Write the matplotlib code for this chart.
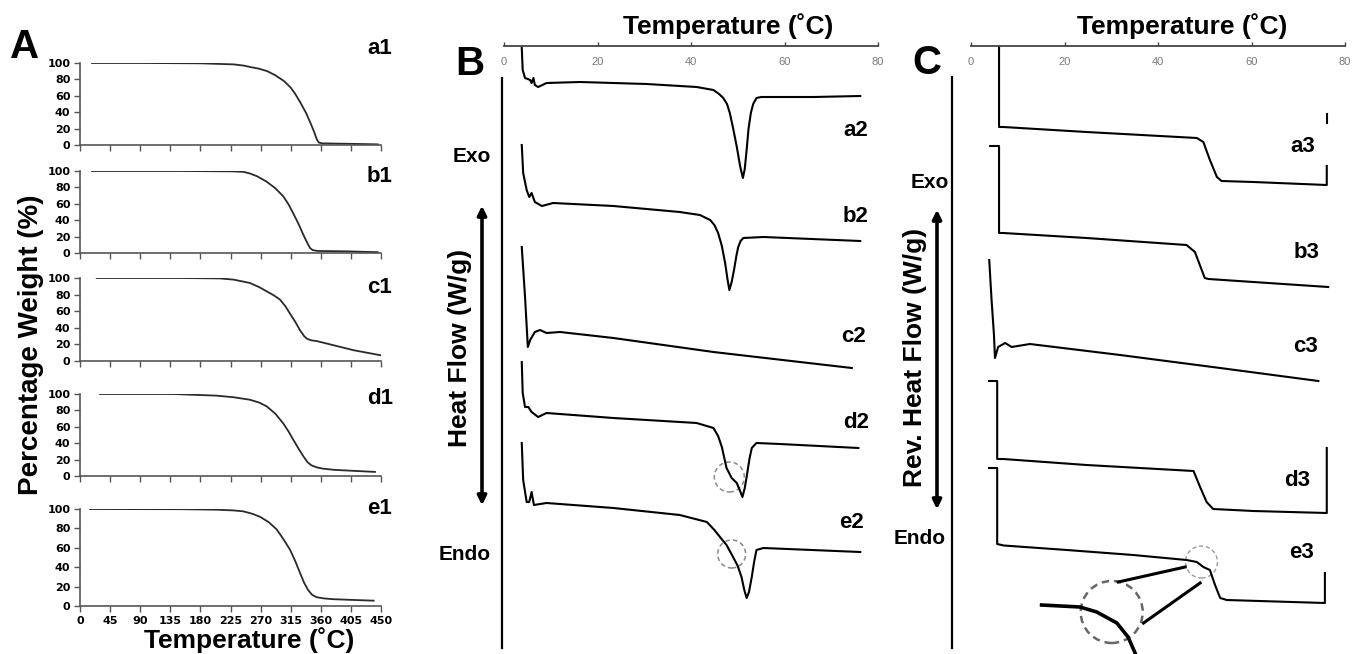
import numpy as np
import matplotlib
matplotlib.use('Agg')
import matplotlib.pyplot as plt
from matplotlib.patches import Ellipse, FancyArrowPatch

plt.rcParams['font.family'] = ['Liberation Sans', 'DejaVu Sans']

# ---- panel A: TGA, temperature (C) vs percentage weight (%)
a1_t = [18, 100, 180, 230, 245, 255, 268, 280, 292, 305, 315, 322, 330, 338, 345, 350, 354, 357, 362, 400, 445]
a1_w = [100, 100, 99.6, 98.3, 96.8, 95, 93, 90, 85, 78, 70, 62, 51, 39, 26, 16, 7, 3, 2, 1.5, 0.8]
b1_t = [18, 150, 225, 244, 254, 265, 279, 292, 304, 312, 319, 327, 334, 340, 344, 348, 355, 400, 445]
b1_w = [100, 100, 99.6, 99, 97, 93.5, 87, 79, 69, 59, 48, 35, 22, 12, 6, 3.5, 2.5, 2, 1]
c1_t = [25, 150, 209, 230, 254, 268, 279, 290, 299, 307, 314, 322, 329, 335, 339, 345, 354, 379, 409, 449]
c1_w = [100, 100, 99.5, 98, 94, 89, 84, 79, 74, 66, 57, 47, 37, 30, 27, 25, 24, 19, 13, 7]
d1_t = [30, 139, 204, 230, 254, 268, 279, 292, 304, 312, 319, 327, 334, 340, 346, 354, 363, 380, 404, 441]
d1_w = [100, 100, 98, 96, 93, 89.5, 85, 76, 64, 54, 44, 33, 24, 17, 13, 10.5, 9, 7.5, 6.5, 5]
e1_t = [15, 150, 204, 230, 244, 258, 269, 282, 294, 304, 314, 322, 329, 335, 341, 347, 354, 365, 379, 410, 439]
e1_w = [100, 99.8, 99.3, 98.5, 97.6, 95, 92, 86.5, 79, 69, 58, 46, 34, 24, 16.5, 11.5, 9, 7.8, 7, 6.2, 5.5]

tga_names = ['a1', 'b1', 'c1', 'd1', 'e1']
tga_t = [a1_t, b1_t, c1_t, d1_t, e1_t]
tga_w = [a1_w, b1_w, c1_w, d1_w, e1_w]
tga_xticks = list(range(0, 451, 45))
tga_yticks = [0, 20, 40, 60, 80, 100]

# ---- panel B: DSC heat flow (stacked, arbitrary units)
a2_t = [3.8, 4.0, 4.5, 5.6, 5.9, 6.3, 6.6, 7.3, 9.1, 16.3, 30.5, 41.2, 44.8, 46.0, 46.9,
        47.7, 48.3, 49.0, 49.8, 50.5, 51.1, 51.5, 51.9, 52.3, 52.8, 53.3, 54.0, 55.0, 59.0, 66.2, 76.2]
a2_hf = [60.6, 58.4, 57.6, 57.4, 57.1, 57.6, 56.9, 56.7, 57.1, 57.2, 57.0, 56.7, 56.4, 56.0, 55.6,
         55.0, 54.1, 52.6, 50.7, 48.8, 47.6, 48.5, 50.4, 52.5, 54.1, 55.0, 55.6, 55.7, 55.7, 55.7, 55.8]
b2_t = [3.8, 4.1, 4.85, 5.4, 5.9, 6.6, 8.1, 10.5, 23.4, 37.6, 41.9, 44.1, 45.0, 45.8, 46.6,
        47.3, 47.8, 48.2, 48.7, 49.2, 49.7, 50.1, 50.6, 51.2, 55.5, 76.2]
b2_hf = [50.9, 48.1, 46.4, 45.7, 46.1, 45.2, 44.8, 45.1, 44.8, 44.2, 43.9, 43.4, 42.9, 42.1, 40.8,
         39.1, 37.5, 36.4, 37.2, 38.4, 39.8, 40.7, 41.3, 41.6, 41.7, 41.3]
c2_t = [3.8, 4.5, 5.1, 5.6, 6.6, 7.7, 9.1, 12.0, 23.4, 44.8, 74.4]
c2_hf = [40.7, 35.7, 30.7, 31.4, 32.2, 32.4, 32.1, 32.2, 31.6, 30.2, 28.6]
d2_t = [3.8, 4.0, 4.5, 5.2, 5.9, 7.3, 9.1, 23.4, 41.2, 44.8, 45.8, 46.6, 47.6, 48.7, 49.8,
        50.5, 51.0, 51.5, 51.9, 52.5, 53.0, 54.0, 59.0, 75.8]
d2_hf = [29.2, 26.1, 24.7, 24.7, 24.2, 23.7, 24.1, 23.6, 23.1, 22.6, 21.8, 20.7, 18.6, 17.6, 17.1,
         16.3, 15.7, 16.6, 17.7, 19.5, 20.6, 21.1, 21.0, 20.6]
e2_t = [3.8, 4.1, 4.85, 5.4, 5.9, 6.4, 9.1, 23.4, 37.6, 43.4, 45.0, 46.2, 47.6, 49.0, 50.0,
        50.8, 51.4, 51.9, 52.4, 53.0, 53.5, 54.0, 55.5, 76.2]
e2_hf = [21.1, 17.4, 15.2, 15.2, 16.2, 14.9, 15.1, 14.6, 13.9, 13.2, 12.4, 11.7, 10.9, 9.7, 8.8,
         7.7, 6.4, 5.6, 6.2, 7.7, 9.2, 10.4, 10.6, 10.2]

dsc_names = ['a2', 'b2', 'c2', 'd2', 'e2']
dsc_t = [a2_t, b2_t, c2_t, d2_t, e2_t]
dsc_hf = [a2_hf, b2_hf, c2_hf, d2_hf, e2_hf]
# dashed circles on d2 / e2 shoulders: (T, hf, radius px)
dsc_marks = [(48.2, 17.7, 15), (48.7, 10.0, 14)]

# ---- panel C: reversing heat flow (stacked, arbitrary units)
a3_t = [6.0, 6.0, 6.9, 24.7, 48.3, 49.7, 51.1, 52.6, 53.6, 60.4, 76.1, 76.1]
a3_hf = [60.7, 52.7, 52.7, 52.2, 51.6, 51.2, 49.4, 47.7, 47.3, 47.2, 46.9, 48.8]
b3_t = [4.1, 6.0, 6.0, 6.9, 24.7, 46.1, 47.9, 50.0, 50.8, 76.4]
b3_hf = [50.8, 50.8, 42.1, 42.1, 41.6, 40.9, 40.2, 37.6, 37.5, 36.7]
c3_t = [3.9, 4.4, 4.9, 5.13, 5.8, 7.3, 8.7, 12.6, 31.9, 53.3, 74.3]
c3_hf = [39.4, 35.4, 32.0, 29.6, 30.7, 31.1, 30.7, 31.0, 29.9, 28.6, 27.3]
d3_t = [3.85, 5.6, 5.6, 6.9, 24.7, 47.6, 49.0, 50.4, 51.8, 60.4, 76.1, 76.1]
d3_hf = [27.3, 27.3, 19.5, 19.5, 18.9, 18.3, 16.7, 15.2, 14.5, 14.3, 14.1, 20.6]
e3_t = [3.85, 5.6, 5.6, 7.0, 20.5, 34.7, 46.1, 48.3, 49.7, 51.1, 52.2, 53.3, 54.7, 75.7, 75.7]
e3_hf = [18.6, 18.6, 11.0, 10.85, 10.4, 9.9, 9.4, 9.2, 8.7, 8.4, 6.9, 5.6, 5.4, 5.1, 8.1]
a3_bar_t = [76.1, 76.1]
a3_bar_hf = [54.0, 53.1]

rev_names = ['a3', 'b3', 'c3', 'd3', 'e3']
rev_t = [a3_t, b3_t, c3_t, d3_t, e3_t]
rev_hf = [a3_hf, b3_hf, c3_hf, d3_hf, e3_hf]

# magnified view of the e3 shoulder
inset_t = [15.1, 23.3, 26.9, 31.2, 33.6, 35.1]
inset_hf = [4.9, 4.7, 4.2, 3.1, 1.7, 0.1]
rev_marks = [(49.3, 9.2, 16), (30.1, 4.2, 31)]
zoom_links = [((31.5, 45.8), (7.2, 8.7)), ((36.9, 49.0), (3.1, 7.1))]

W, H = 1352, 654
fig = plt.figure(figsize=(W / 100, H / 100), dpi=100)


def fx(x):
    return x / W


def fy(y):
    return 1 - y / H


def label(x, y, s, size, **kw):
    fig.text(fx(x), fy(y), s, ha='center', va='center', fontsize=size,
             fontweight='bold', **kw)


# ---------------- panel A
a_boxes = [(63, 145), (171, 253), (278, 361), (394, 476), (509, 606)]
a_label_y = [49, 176, 287, 399, 509]
for i, name in enumerate(tga_names):
    top, bot = a_boxes[i]
    ax = fig.add_axes([fx(80), fy(bot), (381 - 80) / W, (bot - top) / H])
    ax.plot(tga_t[i], tga_w[i], color='#2a2a2a', lw=1.3)
    ax.set_xlim(0, 450)
    ax.set_ylim(0, 100)
    ax.set_xticks(tga_xticks)
    ax.set_yticks(tga_yticks)
    for s in ['top', 'right']:
        ax.spines[s].set_visible(False)
    for s in ['left', 'bottom']:
        ax.spines[s].set_color('#555555')
        ax.spines[s].set_linewidth(1.2)
    ax.tick_params(direction='out', length=4, width=1, color='#555555', pad=3,
                   labelsize=8)
    if i < 4:
        ax.set_xticklabels([])
    for lab in ax.get_xticklabels() + ax.get_yticklabels():
        lab.set_fontweight('bold')
        lab.set_family('DejaVu Sans')
    ax.patch.set_visible(False)
    label(380, a_label_y[i], name, 16)

label(25, 47, 'A', 29)
label(249, 640, 'Temperature (\u02daC)', 19)
fig.text(fx(31), fy(345), 'Percentage Weight (%)', rotation=90, ha='center',
         va='center', fontsize=20, fontweight='bold')


# ---------------- panels B and C
def dsc_axes(left_px):
    ax = fig.add_axes([fx(left_px), 0, 374 / W, (H - 46) / H])
    ax.set_xlim(0, 80)
    ax.set_ylim(0, 60.8)
    ax.xaxis.tick_top()
    ax.set_xticks([0, 20, 40, 60, 80])
    ax.set_yticks([])
    for s in ['left', 'right', 'bottom']:
        ax.spines[s].set_visible(False)
    ax.spines['top'].set_color('#444444')
    ax.spines['top'].set_linewidth(1.3)
    ax.tick_params(axis='x', direction='out', length=3, width=1, color='#444444',
                   labelsize=8, labelcolor='#7a7a7a', pad=-18)
    ax.patch.set_visible(False)
    return ax


def ring(ax, t, h, r_px, color='#8a8a8a', lw=1.1):
    ax.add_patch(Ellipse((t, h), width=2 * r_px * 80 / 374, height=2 * r_px / 10,
                         fill=False, ls=(0, (3, 2)), ec=color, lw=lw, clip_on=False))


def side_arrow(x, y_top, y_bot):
    fig.add_artist(FancyArrowPatch((fx(x), fy(y_bot)), (fx(x), fy(y_top)),
                                   transform=fig.transFigure, arrowstyle='<|-|>',
                                   mutation_scale=13, lw=2.6, color='k'))


axB = dsc_axes(504)
for t, hf in zip(dsc_t, dsc_hf):
    axB.plot(t, hf, color='k', lw=1.5, clip_on=False)
for t, h, r in dsc_marks:
    ring(axB, t, h, r)
axB.plot([-0.43, -0.43], [0.6, 57.6], color='k', lw=1.6, clip_on=False)
for name, (x, y) in zip(dsc_names, [(856, 131), (856, 217), (853, 336), (856, 423), (852, 522)]):
    label(x, y, name, 16)

label(470, 64, 'B', 29)
label(728, 26, 'Temperature (\u02daC)', 19)
label(472, 157, 'Exo', 15)
label(465, 555, 'Endo', 15)
fig.text(fx(460), fy(348), 'Heat Flow (W/g)', rotation=90, ha='center', va='center',
         fontsize=19, fontweight='bold')
side_arrow(482, 203, 508)

axC = dsc_axes(971)
for t, hf in zip(rev_t, rev_hf):
    axC.plot(t, hf, color='k', lw=1.5, clip_on=False)
axC.plot(a3_bar_t, a3_bar_hf, color='k', lw=1.5, clip_on=False)
axC.plot(inset_t, inset_hf, color='k', lw=2.6, clip_on=False)
ring(axC, *rev_marks[0][:2], rev_marks[0][2], color='#999999', lw=1.0)
ring(axC, *rev_marks[1][:2], rev_marks[1][2], color='#666666', lw=1.8)
for xs, ys in zoom_links:
    axC.plot(xs, ys, color='k', lw=2.2, clip_on=False)
axC.plot([-4.06, -4.06], [0.6, 57.7], color='k', lw=1.6, clip_on=False)
for name, (x, y) in zip(rev_names, [(1303, 146), (1307, 253), (1306, 347), (1297, 480), (1301, 553)]):
    label(x, y, name, 16)

label(927, 63, 'C', 29)
label(1182, 26, 'Temperature (\u02daC)', 19)
label(930, 182, 'Exo', 15)
label(920, 538, 'Endo', 15)
fig.text(fx(915), fy(357), 'Rev. Heat Flow (W/g)', rotation=90, ha='center',
         va='center', fontsize=19, fontweight='bold')
side_arrow(937, 207, 512)

fig.savefig('out.png', dpi=100)
